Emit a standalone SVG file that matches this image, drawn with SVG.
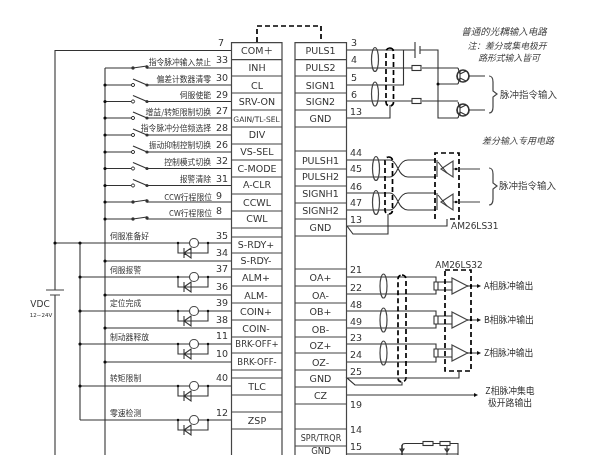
<svg xmlns="http://www.w3.org/2000/svg" width="600" height="455" viewBox="0 0 600 455">
<style>
text{font-family:"DejaVu Sans","Noto Sans CJK SC",sans-serif;fill:#333}
.p{font-size:9.5px;text-anchor:middle}
.n{font-size:9.5px}
.c{font-size:7.800px;font-family:"Noto Sans CJK SC",sans-serif;fill:#333}
.r{font-size:8.800px;font-family:"Noto Sans CJK SC",sans-serif;fill:#333}
.i{font-size:9.500px;font-family:"Noto Sans CJK SC",sans-serif;font-style:italic;fill:#444}
.l{fill:none;stroke:#333;stroke-width:1.1}
.d{fill:none;stroke:#000;stroke-width:1.7;stroke-dasharray:5 3}
.s{fill:none;stroke:#444;stroke-width:1.200}
.f{fill:#111;stroke:none}
</style>
<defs>
<filter id="soft" x="0" y="0" width="100%" height="100%"><feGaussianBlur stdDeviation="0.35"/></filter>
<g id="sw-open"><path d="M133 -6L147 0" class="l"/><circle cx="133" cy="0" r="1.6" fill="#fff" stroke="#333"/><circle cx="147" cy="0" r="1.6" fill="#333"/></g>
<g id="sw-closed"><path d="M133 0L147 -2" class="l"/><circle cx="133" cy="0" r="1.700" fill="#333"/><circle cx="147" cy="-1" r="1.700" fill="#333"/></g>
<g id="opto"><path class="l" d="M178 0V10H208V0M184 10l7 -5v10zM184 5v10"/><circle cx="194" cy="0" r="4.500" fill="#fff" stroke="#444" stroke-width="1.200"/><circle cx="178" cy="0" r="1.200" class="f"/><circle cx="208" cy="0" r="1.200" class="f"/></g>
<circle id="rail" cx="105" cy="0" r="1.600" class="f"/>
<g id="npn"><circle cx="0" cy="0" r="6" fill="#fff" stroke="#333" stroke-width="1.700"/><path class="l" stroke-width="1.500" d="M-3 -5V5M-5 -8L-3 -2M-5 8L-3 2M-3 -2L3 -5M-3 2L3 5"/></g>
<g id="rcv"><path class="s" d="M441 0L453 -8V8ZM453 0H480"/><path class="l" d="M437 -9V8M438 -7L447 4"/><circle cx="456" cy="0" r="1.200" class="f"/></g>
<g id="amp"><path class="s" d="M452 -8L467.500 0L452 8Z"/><path class="l" d="M434 -4h4v8h-4zM438 -4H452M438 4H452M467 0H477"/><path class="f" d="M481 0l-4 -2v4z"/><circle cx="471" cy="0" r="1.200" class="f"/></g>
<path id="gnd" class="l" d="M-2 0H2L0 3ZM0 -4V10"/>
</defs>
<g filter="url(#soft)">
<g id="connectors">
<path class="d" d="M257 42V26H321V42"/>
<path class="l" d="M231 50.500H55V290M55 295V455M105 68V455M80 243V420"/>
<path class="l" d="M105 68H133M147 68H231M105 85H133M147 85H231M105 101.500H133M147 101.500H231M105 118H133M147 118H231M105 135H133M147 135H231M105 152H133M147 152H231M105 168.500H133M147 168.500H231M105 185.500H133M147 185.500H231M105 202H133M147 202H231M105 219H133M147 219H231"/>
<path class="l" d="M55 243H231M105 261H231M80 277H231M105 295H231M80 311H231M105 328H231M80 344H231M105 362H231M80 386H231M80 420H231"/>
<circle cx="55" cy="243" r="1.600" class="f"/>
<circle cx="80" cy="243" r="1.600" class="f"/><circle cx="80" cy="277" r="1.600" class="f"/><circle cx="80" cy="311" r="1.600" class="f"/><circle cx="80" cy="344" r="1.600" class="f"/><circle cx="80" cy="386" r="1.600" class="f"/>
<use href="#rail" y="85"/><use href="#rail" y="101.500"/><use href="#rail" y="118"/><use href="#rail" y="135"/><use href="#rail" y="152"/><use href="#rail" y="168.500"/><use href="#rail" y="185.500"/><use href="#rail" y="202"/><use href="#rail" y="219"/><use href="#rail" y="261"/><use href="#rail" y="295"/><use href="#rail" y="328"/><use href="#rail" y="362"/>
<use href="#sw-closed" y="68"/><use href="#sw-open" y="85"/><use href="#sw-open" y="101.500"/><use href="#sw-open" y="118"/><use href="#sw-open" y="135"/><use href="#sw-open" y="152"/><use href="#sw-open" y="168.500"/><use href="#sw-open" y="185.500"/><use href="#sw-closed" y="202"/><use href="#sw-closed" y="219"/>
<use href="#opto" y="243"/><use href="#opto" y="277"/><use href="#opto" y="311"/><use href="#opto" y="344"/><use href="#opto" y="386"/><use href="#opto" y="420"/>
<path class="s" d="M46 290H64M50 295H60"/>

<path class="l" d="M347 50H415M420 50H438V118H458M347 68H412M422 68H458M347 85H403.500V50M347 101H412M422 101H458M347 118H390V105M438 84H458M469 76H485M469 110H485"/>
<circle cx="438" cy="84" r="1.500" class="f"/>
<path class="s" d="M415 42V58M420 46V54"/>
<rect class="l" x="412" y="65.500" width="9" height="5"/><rect class="l" x="412" y="98.500" width="9" height="5"/>
<ellipse class="s" cx="375" cy="59.500" rx="3.500" ry="12"/><ellipse class="s" cx="375" cy="94" rx="3.500" ry="12"/>
<rect class="d" x="386" y="48" width="7.500" height="58" rx="3.700"/>
<path class="s" d="M489 76Q493 76 493 82V91L497 94L493 97V107Q493 113 489 113"/>

<path class="l" d="M347 160H390Q394 160 398 168.500T408 177H436M347 177H390Q394 177 398 168.500T408 160H436M347 193H390Q394 193 398 201.500T408 210H436M347 210H390Q394 210 398 201.500T408 193H436"/>
<ellipse class="s" cx="376" cy="168.500" rx="3.500" ry="12"/><ellipse class="s" cx="376" cy="202.500" rx="3.500" ry="12"/>
<rect class="d" x="385" y="157" width="7.500" height="57" rx="3.700"/>
<path class="d" d="M435 219V153H459V219H447"/>
<use href="#rcv" y="169"/><use href="#rcv" y="202"/>
<path class="l" d="M447 219V226H347L353 234H388V214"/>
<path class="s" d="M489 168Q493 168 493 174V183L497 186L493 189V199Q493 205 489 205"/>

<path class="l" d="M347 277H436V282M436 290V294H347M347 311H436V316M436 324V328H347M347 344H436V349M436 357V362H347"/>
<ellipse class="s" cx="383.500" cy="286" rx="3.500" ry="12"/><ellipse class="s" cx="383.500" cy="320" rx="3.500" ry="12"/><ellipse class="s" cx="383.500" cy="353" rx="3.500" ry="12"/>
<rect class="d" x="398" y="275" width="8" height="107" rx="4"/>
<use href="#amp" y="286"/><use href="#amp" y="320"/><use href="#amp" y="353"/>
<path class="d" d="M445 270H471V371H445Z"/>
<path class="l" d="M459 371V378H347L355 385H402V382M347 395H474"/>
<path class="f" d="M478 395l-4 -2v4z"/>

<path class="l" d="M402 455V446Q402 443.500 405 443.500H423M433 443.500H440M450 443.500H458V455M347 454H458"/>
<rect class="l" x="423" y="441.500" width="10" height="4"/><rect class="l" x="440" y="441.500" width="10" height="4"/>
<use href="#gnd" x="402" y="449"/><use href="#gnd" x="447" y="449"/>
</g>

<g id="left-terminals">
<path class="s" d="M231.500 455V42.700H282V455M231.500 59.700H282M231.500 76H282M231.500 93H282M231.500 110H282M231.500 127H282M231.500 144H282M231.500 160H282M231.500 177H282M231.500 194H282M231.500 211H282M231.500 228H282M231.500 237H282M231.500 253H282M231.500 269H282M231.500 286H282M231.500 303H282M231.500 320H282M231.500 337H282M231.500 353H282M231.500 370H282M231.500 378H282M231.500 395H282M231.500 412H282M231.500 429H282"/>
<text class="p" x="257" y="54">COM＋</text><text class="p" x="257" y="71">INH</text><text class="p" x="257" y="89">CL</text><text class="p" x="257" y="105">SRV-ON</text>
<text class="p" x="256.500" y="122" style="font-size:7.500px">GAIN/TL-SEL</text>
<text class="p" x="257" y="138">DIV</text><text class="p" x="257" y="155">VS-SEL</text><text class="p" x="257" y="172">C-MODE</text><text class="p" x="257" y="188">A-CLR</text><text class="p" x="257" y="206">CCWL</text><text class="p" x="257" y="222">CWL</text>
<text class="p" x="256" y="248">S-RDY+</text><text class="p" x="256" y="264">S-RDY-</text><text class="p" x="256" y="281">ALM+</text><text class="p" x="256" y="299">ALM-</text><text class="p" x="256" y="315">COIN+</text><text class="p" x="256" y="332">COIN-</text>
<text class="p" x="257" y="347" style="font-size:8.500px">BRK-OFF+</text><text class="p" x="257" y="365" style="font-size:8.500px">BRK-OFF-</text>
<text class="p" x="257" y="390">TLC</text><text class="p" x="257" y="424">ZSP</text>
<g class="n" text-anchor="end">
<text x="224" y="46">7</text><text x="228" y="63">33</text><text x="228" y="81">30</text><text x="228" y="98">29</text><text x="228" y="114">27</text><text x="228" y="131">28</text><text x="228" y="148">26</text><text x="228" y="164">32</text><text x="228" y="182">31</text><text x="222" y="199">9</text><text x="222" y="214">8</text>
<text x="228" y="239">35</text><text x="228" y="256">34</text><text x="228" y="272">37</text><text x="228" y="290">36</text><text x="228" y="306">39</text><text x="228" y="323">38</text><text x="228" y="339">11</text><text x="228" y="357">10</text><text x="228" y="381">40</text><text x="228" y="416">12</text>
</g>
</g>

<g id="right-terminals">
<path class="s" d="M295 455V42.700H346.500V455M295 59.700H346.500M295 76H346.500M295 93H346.500M295 110H346.500M295 127H346.500M295 151H346.500M295 169H346.500M295 186H346.500M295 203H346.500M295 219H346.500M295 236H346.500M295 269H346.500M295 286H346.500M295 303H346.500M295 320H346.500M295 337H346.500M295 353H346.500M295 370H346.500M295 387H346.500M295 404H346.500M295 429H346.500M295 446H346.500"/>
<text class="p" x="320.500" y="54">PULS1</text><text class="p" x="320.500" y="71">PULS2</text><text class="p" x="320.500" y="89">SIGN1</text><text class="p" x="320.500" y="105">SIGN2</text><text class="p" x="320.500" y="122">GND</text>
<text class="p" x="320.500" y="164">PULSH1</text><text class="p" x="320.500" y="180">PULSH2</text><text class="p" x="320.500" y="197">SIGNH1</text><text class="p" x="320.500" y="214">SIGNH2</text><text class="p" x="320.500" y="231">GND</text>
<text class="p" x="320.500" y="281">OA+</text><text class="p" x="320.500" y="299">OA-</text><text class="p" x="320.500" y="315">OB+</text><text class="p" x="320.500" y="333">OB-</text><text class="p" x="320.500" y="349">OZ+</text><text class="p" x="320.500" y="366">OZ-</text><text class="p" x="320.500" y="382">GND</text><text class="p" x="320.500" y="399">CZ</text>
<text class="p" x="321" y="441" style="font-size:8px">SPR/TRQR</text><text class="p" x="321" y="454" style="font-size:8.500px">GND</text>
<g class="n">
<text x="351" y="46">3</text><text x="351" y="63">4</text><text x="351" y="81">5</text><text x="351" y="98">6</text><text x="350" y="115">13</text>
<text x="350" y="156">44</text><text x="350" y="172">45</text><text x="350" y="190">46</text><text x="350" y="206">47</text><text x="350" y="223">13</text>
<text x="350" y="273">21</text><text x="350" y="291">22</text><text x="350" y="308">48</text><text x="350" y="325">49</text><text x="350" y="341">23</text><text x="350" y="358">24</text><text x="350" y="375">25</text><text x="350" y="408">19</text><text x="350" y="433">14</text><text x="350" y="450">15</text>
</g>
</g>

<g id="transistors"><use href="#npn" x="463" y="76"/><use href="#npn" x="463" y="110"/></g>

<g id="labels">
<text class="c" x="211" y="65" text-anchor="end">指令脉冲输入禁止</text>
<text class="c" x="211" y="82" text-anchor="end">偏差计数器清零</text>
<text class="c" x="211" y="98" text-anchor="end">伺服使能</text>
<text class="c" x="211" y="115" text-anchor="end">增益/转矩限制切换</text>
<text class="c" x="211" y="131" text-anchor="end">指令脉冲分倍频选择</text>
<text class="c" x="211" y="148" text-anchor="end">振动抑制控制切换</text>
<text class="c" x="211" y="165" text-anchor="end">控制模式切换</text>
<text class="c" x="211" y="182" text-anchor="end">报警清除</text>
<text class="c" x="212" y="200" text-anchor="end">CCW行程限位</text>
<text class="c" x="212" y="216" text-anchor="end">CW行程限位</text>
<text class="c" x="110" y="239">伺服准备好</text><text class="c" x="110" y="273">伺服报警</text><text class="c" x="110" y="306">定位完成</text><text class="c" x="110" y="340">制动器释放</text><text class="c" x="110" y="381">转矩限制</text><text class="c" x="110" y="416">零速检测</text>
<text x="40" y="307" text-anchor="middle" style="font-size:9px">VDC</text>
<text x="41" y="317" text-anchor="middle" style="font-size:5.500px">12~24V</text>
<text class="i" x="504" y="35" text-anchor="middle">普通的光耦输入电路</text>
<text class="i" x="507" y="49" text-anchor="middle" style="font-size:8.800px">注：差分或集电极开</text>
<text class="i" x="509" y="61" text-anchor="middle" style="font-size:8.800px">路形式输入皆可</text>
<text class="i" x="500" y="98" style="font-style:normal">脉冲指令输入</text>
<text class="i" x="518" y="144" text-anchor="middle" style="font-size:9px">差分输入专用电路</text>
<text class="i" x="499" y="189" style="font-style:normal">脉冲指令输入</text>
<text x="451" y="229" style="font-size:9px">AM26LS31</text>
<text x="459" y="268" text-anchor="middle" style="font-size:9px">AM26LS32</text>
<text class="r" x="484" y="289">A相脉冲输出</text><text class="r" x="484" y="323">B相脉冲输出</text><text class="r" x="484" y="356">Z相脉冲输出</text>
<text class="r" x="510" y="394" text-anchor="middle">Z相脉冲集电</text><text class="r" x="510" y="406" text-anchor="middle">极开路输出</text>
</g>
</g>
</svg>
